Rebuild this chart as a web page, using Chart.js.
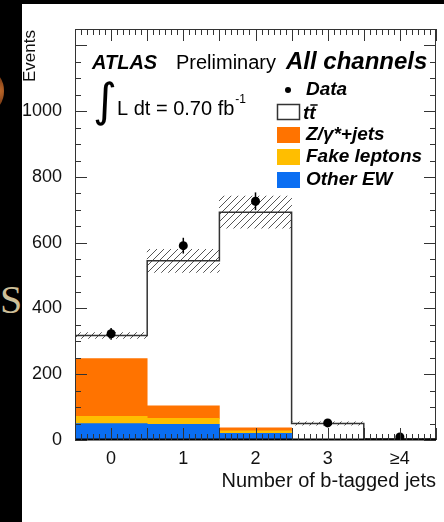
<!DOCTYPE html>
<html>
<head>
<meta charset="utf-8">
<script src="https://cdn.jsdelivr.net/npm/chart.js@4.4.0/dist/chart.umd.min.js"></script>
<style>
  html, body { margin: 0; padding: 0; background: #000; }
  body { width: 444px; height: 522px; position: relative; overflow: hidden; }
  #panel { position: absolute; left: 22px; top: 4px; width: 422px; height: 518px; background: #fff; }
  #blob { position: absolute; left: -22px; top: 72px; width: 26px; height: 38px; border-radius: 50%;
          background: radial-gradient(circle at 80% 50%, #c06a2a 0%, #7a3a14 50%, #1a0a02 100%); }
  #glyph { position: absolute; left: 0; top: 276px; font-family: "Liberation Serif", serif; font-size: 40px; color: #cdbf98; }
  #wrap { position: absolute; left: 0; top: 0; width: 444px; height: 522px; }
</style>
</head>
<body>
<div id="blob"></div>
<div id="glyph">S</div>
<div id="panel"></div>
<div id="wrap"><canvas id="chart"></canvas></div>
<script>
// Number of b-tagged jets, ATLAS dilepton selection
const xLabels = ['0', '1', '2', '3', '≥4'];
const otherEW = [50, 48, 20, 1, 0];
const fakeLeptons = [22, 18, 8, 0, 0];
const zJets = [176, 38, 9, 0, 0];
const ttbar = [70, 441, 656, 49, 3];
const dataCounts = [323, 591, 726, 52, 9];
const dataErrors = [18, 24, 27, 7, 3];
const mcUncertainty = [9, 35, 49, 5, 1];
const yTicks = [0, 200, 400, 600, 800, 1000];

const FONT = '"Liberation Sans", Arial, sans-serif';
const BLUE = '#0a6ef2';
const YELLOW = '#ffbe00';
const ORANGE = '#ff7300';

const totals = ttbar.map((v, i) => v + zJets[i] + fakeLeptons[i] + otherEW[i]);

const canvas = document.getElementById('chart');

function makeHatch() {
    const c = document.createElement('canvas');
    c.width = 7; c.height = 7;
    const g = c.getContext('2d');
    g.strokeStyle = '#555';
    g.lineWidth = 1;
    g.beginPath();
    g.moveTo(0, 7); g.lineTo(7, 0);
    g.moveTo(-1, 1); g.lineTo(1, -1);
    g.moveTo(6, 8); g.lineTo(8, 6);
    g.stroke();
    return canvas.getContext('2d').createPattern(c, 'repeat');
}

function xy(values) {
    return values.map((v, i) => ({ x: i, y: v }));
}

// step outline of the total MC, points at the left bin edges
const outline = totals.map((v, i) => ({ x: i - 0.5, y: v }));
outline.push({ x: totals.length - 0.5, y: totals[totals.length - 1] });

const atlasDecor = {
    id: 'atlasDecor',
    afterDatasetsDraw(chart) {
        const { ctx, scales: { x, y } } = chart;
        ctx.save();
        ctx.strokeStyle = '#000';
        ctx.lineWidth = 1.5;
        dataCounts.forEach((v, i) => {
            const px = x.getPixelForValue(i);
            ctx.beginPath();
            ctx.moveTo(px, y.getPixelForValue(v - dataErrors[i]));
            ctx.lineTo(px, y.getPixelForValue(v + dataErrors[i]));
            ctx.stroke();
        });
        ctx.restore();
    },
    afterDraw(chart) {
        const { ctx, chartArea: a, scales: { x, y } } = chart;
        ctx.save();

        // frame
        ctx.strokeStyle = '#333';
        ctx.lineWidth = 1;
        ctx.strokeRect(a.left + 0.5, a.top + 0.5, a.right - a.left - 1, a.bottom - a.top - 1);
        ctx.strokeStyle = '#000';
        ctx.lineWidth = 2;
        ctx.beginPath();
        ctx.moveTo(a.left, a.bottom - 0.5);
        ctx.lineTo(a.right, a.bottom - 0.5);
        ctx.stroke();

        // ticks pointing inwards
        ctx.strokeStyle = '#333';
        ctx.lineWidth = 1;
        ctx.beginPath();
        for (let k = 0; k <= 60; k++) {
            const v = -0.5 + k / 12;
            const len = k % 6 === 0 ? 12 : 6;
            const px = Math.round(x.getPixelForValue(v)) + 0.5;
            ctx.moveTo(px, a.bottom); ctx.lineTo(px, a.bottom - len);
            ctx.moveTo(px, a.top); ctx.lineTo(px, a.top + len);
        }
        for (let v = 0; v <= 1250; v += 50) {
            const len = v % 200 === 0 ? 12 : 6;
            const py = Math.round(y.getPixelForValue(v)) + 0.5;
            ctx.moveTo(a.left, py); ctx.lineTo(a.left + len, py);
            ctx.moveTo(a.right, py); ctx.lineTo(a.right - len, py);
        }
        ctx.stroke();

        // y axis title
        ctx.fillStyle = '#111';
        ctx.save();
        ctx.translate(30, 30);
        ctx.rotate(-Math.PI / 2);
        ctx.textAlign = 'right';
        ctx.textBaseline = 'middle';
        ctx.font = '17px ' + FONT;
        ctx.fillText('Events', 0, 0);
        ctx.restore();

        // labels
        ctx.fillStyle = '#000';
        ctx.textBaseline = 'middle';
        ctx.textAlign = 'left';
        ctx.font = 'italic bold 20px ' + FONT;
        ctx.fillText('ATLAS', 92, 63);
        ctx.font = '20px ' + FONT;
        ctx.fillText('Preliminary', 176, 63);
        ctx.font = 'italic bold 24px ' + FONT;
        ctx.fillText('All channels', 286, 62);

        ctx.font = '46px "DejaVu Sans", sans-serif';
        ctx.fillText('∫', 93, 104);
        ctx.font = '20px ' + FONT;
        ctx.fillText('L dt = 0.70 fb', 117, 109);
        const w = ctx.measureText('L dt = 0.70 fb').width;
        ctx.font = '12px ' + FONT;
        ctx.fillText('-1', 117 + w + 1, 100);

        // legend
        const rowY = [90, 112, 135, 157, 180];
        const boxX = 277, boxW = 23, boxH = 16, textX = 306;
        ctx.font = 'italic bold 19px ' + FONT;
        ctx.beginPath();
        ctx.arc(288, rowY[0], 3, 0, Math.PI * 2);
        ctx.fill();
        ctx.fillText('Data', textX, rowY[0]);

        ctx.fillStyle = '#fff';
        ctx.fillRect(boxX, rowY[1] - boxH / 2, boxW, boxH);
        ctx.strokeStyle = '#333';
        ctx.lineWidth = 1.5;
        ctx.strokeRect(boxX + 0.5, rowY[1] - boxH / 2 + 0.5, boxW - 1, boxH - 1);
        ctx.fillStyle = '#000';
        ctx.fillText('tt', 303, rowY[1] + 2);
        const tw = ctx.measureText('t').width;
        ctx.lineWidth = 1.5;
        ctx.strokeStyle = '#000';
        ctx.beginPath();
        ctx.moveTo(303 + tw + 1, rowY[1] - 7);
        ctx.lineTo(303 + tw * 2 + 2, rowY[1] - 7);
        ctx.stroke();

        const entries = [
            ['Z/γ*+jets', ORANGE],
            ['Fake leptons', YELLOW],
            ['Other EW', BLUE]
        ];
        entries.forEach(([label, color], i) => {
            const yy = rowY[i + 2];
            ctx.fillStyle = color;
            ctx.fillRect(boxX, yy - boxH / 2, boxW, boxH);
            ctx.fillStyle = '#000';
            ctx.fillText(label, textX, yy);
        });

        ctx.restore();
    }
};

new Chart(canvas, {
    type: 'bar',
    data: {
        datasets: [
            {
                type: 'line',
                label: 'Data',
                data: xy(dataCounts),
                showLine: false,
                pointRadius: 4.5,
                pointBackgroundColor: '#000',
                pointBorderWidth: 0,
                stack: 'data',
                order: 0
            },
            {
                type: 'line',
                label: 'MC total',
                data: outline,
                stepped: true,
                borderColor: '#333',
                borderWidth: 1.5,
                pointRadius: 0,
                fill: false,
                stack: 'outline',
                order: 1
            },
            {
                label: 'Uncertainty',
                data: totals.map((t, i) => ({ x: i, y: [t - mcUncertainty[i], t + mcUncertainty[i]] })),
                backgroundColor: makeHatch(),
                borderWidth: 0,
                grouped: false,
                stack: 'unc',
                order: 2
            },
            {
                label: 'Other EW',
                data: xy(otherEW),
                backgroundColor: BLUE,
                grouped: false,
                stack: 'mc',
                order: 3
            },
            {
                label: 'Fake leptons',
                data: xy(fakeLeptons),
                backgroundColor: YELLOW,
                grouped: false,
                stack: 'mc',
                order: 4
            },
            {
                label: 'Z/γ*+jets',
                data: xy(zJets),
                backgroundColor: ORANGE,
                grouped: false,
                stack: 'mc',
                order: 5
            },
            {
                label: 'tt̄',
                data: xy(ttbar),
                backgroundColor: '#fff',
                grouped: false,
                stack: 'mc',
                order: 6
            }
        ]
    },
    options: {
        responsive: true,
        maintainAspectRatio: false,
        animation: false,
        barPercentage: 1,
        categoryPercentage: 1,
        layout: { padding: { left: 0, top: 29, right: 8, bottom: 0 } },
        plugins: {
            legend: { display: false },
            tooltip: { enabled: false }
        },
        scales: {
            x: {
                type: 'linear',
                offset: false,
                min: -0.5,
                max: 4.5,
                grid: { display: false, offset: false },
                border: { display: false },
                afterBuildTicks: function(scale) {
                    scale.ticks = xLabels.map((_, i) => ({ value: i }));
                },
                ticks: {
                    callback: function(value) { return xLabels[value]; },
                    font: { family: FONT, size: 18 },
                    color: '#111',
                    padding: 0,
                    maxRotation: 0,
                    autoSkip: false
                },
                title: {
                    display: true,
                    text: 'Number of b-tagged jets',
                    align: 'end',
                    font: { family: FONT, size: 20 },
                    color: '#111',
                    padding: { top: 0, bottom: 29 }
                },
                afterFit: function(scale) { scale.height = 82; }
            },
            y: {
                stacked: true,
                min: 0,
                max: 1250,
                grid: { display: false },
                border: { display: false },
                afterBuildTicks: function(scale) {
                    scale.ticks = yTicks.map(v => ({ value: v }));
                },
                ticks: {
                    callback: function(value) { return String(value); },
                    font: { family: FONT, size: 18 },
                    color: '#111',
                    padding: 5
                },
                afterFit: function(scale) { scale.width = 75; }
            }
        }
    },
    plugins: [atlasDecor]
});
</script>
</body>
</html>
